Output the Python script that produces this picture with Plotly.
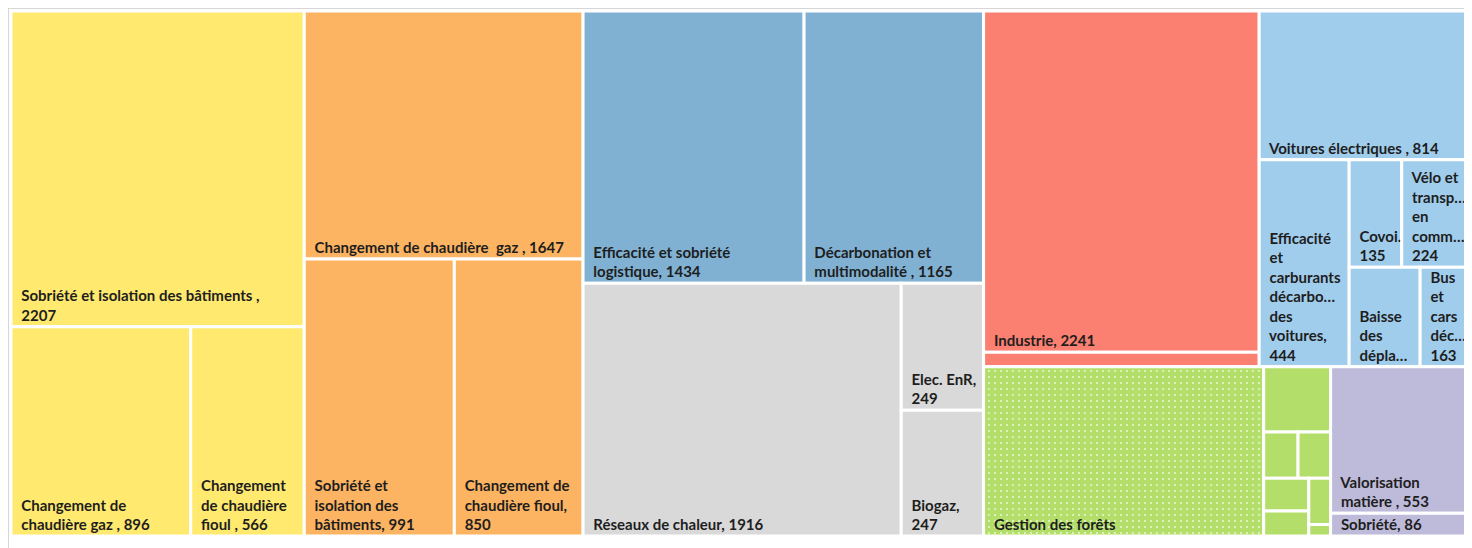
import plotly.graph_objects as go

# ---------------- data ----------------
group_names = ["Résidentiel", "Tertiaire", "Transport de marchandises", "Énergie",
               "Industrie (secteur)", "Mobilité des personnes", "Agriculture et forêts", "Déchets"]
group_colors = ["#FFE96F", "#FDB462", "#80B1D3", "#D9D9D9",
                "#FB8072", "#A0CDEC", "#B3DE69", "#BEBADA"]

res_labels = ["Sobriété et isolation des bâtiments", "Changement de chaudière gaz",
              "Changement de chaudière fioul"]
res_values = [2207, 896, 566]
res_text = ["Sobriété et isolation des bâtiments ,<br>", "Changement de<br>chaudière gaz , ",
            "Changement<br>de chaudière<br>fioul , "]

ter_labels = ["Changement de chaudière gaz", "Sobriété et isolation des bâtiments",
              "Changement de chaudière fioul"]
ter_values = [1647, 991, 850]
ter_text = ["Changement de chaudière  gaz , ", "Sobriété et<br>isolation des<br>bâtiments, ",
            "Changement de<br>chaudière fioul,<br>"]

fret_labels = ["Efficacité et sobriété logistique", "Décarbonation et multimodalité"]
fret_values = [1434, 1165]
fret_text = ["Efficacité et sobriété<br>logistique, ", "Décarbonation et<br>multimodalité , "]

ener_labels = ["Réseaux de chaleur", "Elec. EnR", "Biogaz"]
ener_values = [1916, 249, 247]
ener_text = ["Réseaux de chaleur, ", "Elec. EnR,<br>", "Biogaz,<br>"]

ind_labels = ["Industrie", "Industrie - autres"]
ind_values = [2241, 95]
ind_text = ["Industrie, ", ""]

mob_labels = ["Voitures électriques", "Efficacité et carburants décarbonés des voitures",
              "Covoiturage", "Vélo et transports en commun", "Baisse des déplacements",
              "Bus et cars décarbonés"]
mob_values = [814, 444, 135, 224, 168, 163]
mob_text = ["Voitures électriques , ", "Efficacité<br>et<br>carburants<br>décarbo…<br>des<br>voitures,<br>",
            "Covoi…<br>", "Vélo et<br>transp…<br>en<br>comm…<br>", "Baisse<br>des<br>dépla…",
            "Bus<br>et<br>cars<br>déc…<br>"]

agri_labels = ["Gestion des forêts", "Levier agricole 1", "Levier agricole 2", "Levier agricole 3",
               "Levier agricole 4", "Levier agricole 5", "Levier agricole 6", "Levier agricole 7"]
agri_values = [1130, 104, 38, 36, 35, 27, 24, 6]
agri_text = ["Gestion des forêts", "", "", "", "", "", "", ""]

dech_labels = ["Valorisation matière", "Sobriété"]
dech_values = [553, 86]
dech_text = ["Valorisation<br>matière , ", "Sobriété, "]

# leaves whose value is not printed after the text
no_value = ["Gestion des forêts", "Baisse des déplacements"]
# ---------------------------------------

groups = [
    (res_labels, res_values, res_text),
    (ter_labels, ter_values, ter_text),
    (fret_labels, fret_values, fret_text),
    (ener_labels, ener_values, ener_text),
    (ind_labels, ind_values, ind_text),
    (mob_labels, mob_values, mob_text),
    (agri_labels, agri_values, agri_text),
    (dech_labels, dech_values, dech_text),
]

INDENT = "\u00a0\u00a0"


def indent(txt):
    return "<br>".join((INDENT + part) if part else part for part in txt.split("<br>"))


ids, labels, parents, values, texts, templates, colors, patterns = [], [], [], [], [], [], [], []
for gname, gcol, (labs, vals, txts) in zip(group_names, group_colors, groups):
    ids.append(gname)
    labels.append(gname)
    parents.append("")
    values.append(0)
    texts.append("")
    templates.append("")
    colors.append(gcol)
    patterns.append("")
    for lab, val, txt in zip(labs, vals, txts):
        ids.append(gname + "/" + lab)
        labels.append(lab)
        parents.append(gname)
        values.append(val)
        if txt == "":
            texts.append("")
            templates.append("")
        elif lab in no_value:
            texts.append(indent(txt))
            templates.append("%{text}")
        else:
            t = indent(txt)
            if t.endswith("<br>"):
                t = t + INDENT
            texts.append(t)
            templates.append("%{text}%{value:.0f}")
        colors.append(gcol)
        patterns.append("." if lab == "Gestion des forêts" else "")

FIG_W, FIG_H = 1481, 540
MAP_W, MAP_H = 1478, 525

fig = go.Figure(go.Treemap(
    ids=ids,
    labels=labels,
    parents=parents,
    values=values,
    text=texts,
    texttemplate=templates,
    branchvalues="remainder",
    sort=False,
    tiling=dict(packing="squarify", squarifyratio=1, pad=0),
    marker=dict(
        colors=colors,
        line=dict(color="white", width=3),
        pad=dict(t=0, l=0, r=0, b=0),
        pattern=dict(shape=patterns, fgcolor="rgba(255,255,255,0.75)", bgcolor=colors,
                     size=6, solidity=0.08),
    ),
    pathbar=dict(visible=False),
    textposition="bottom left",
    textfont=dict(family="Lato", size=15, color="#1e1e1e", weight="bold"),
    hoverinfo="label+value",
    root=dict(color="white"),
    domain=dict(x=[(FIG_W - MAP_W) / FIG_W, 1],
                y=[1 - (3 + MAP_H) / FIG_H, 1 - 3 / FIG_H]),
))

fig.update_layout(
    width=FIG_W,
    height=FIG_H,
    margin=dict(l=0, r=0, t=0, b=0),
    paper_bgcolor="white",
    uniformtext=dict(minsize=15, mode="show"),
    shapes=[
        dict(type="line", xref="paper", yref="paper", x0=0, x1=1, y0=1, y1=1,
             line=dict(color="#c8c8c8", width=1.5), layer="below"),
        dict(type="line", xref="paper", yref="paper", x0=0, x1=0, y0=0, y1=1,
             line=dict(color="#c8c8c8", width=1.5), layer="below"),
    ],
)

fig.write_html("out.html")
